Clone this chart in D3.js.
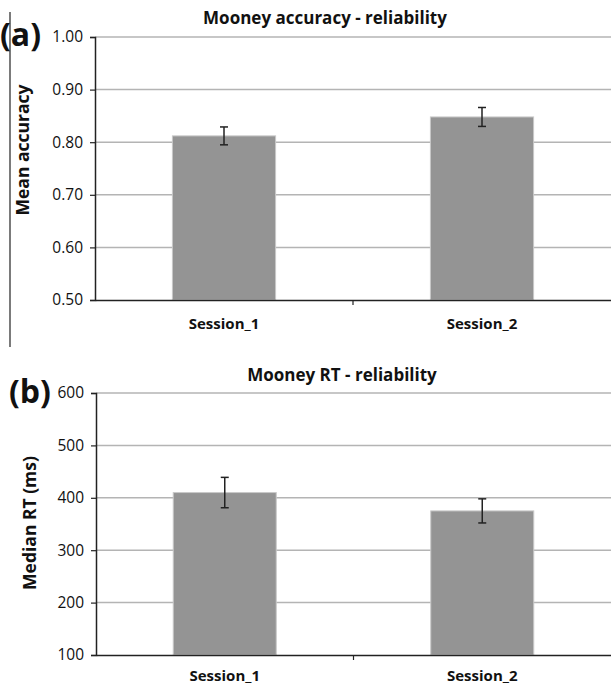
<!DOCTYPE html>
<html lang="en">
<head>
	<meta charset="UTF-8">
	<title>Mooney reliability</title>
	<style>
		body { margin: 0; background: #fff; }
		text { font-family: "Open Sans", "Noto Sans", sans-serif; }
	</style>
	<script src="https://d3js.org/d3.v7.min.js"></script>
</head>
<body>
	<script type="text/javascript">
		const width = 611;
		const height = 686;

		// data
		const sessions = ["Session_1", "Session_2"];
		const accMean = [0.812, 0.848];
		const accErr = [0.017, 0.018];
		const rtMean = [410, 375];
		const rtErr = [29, 23];
		const accTicks = [0.5, 0.6, 0.7, 0.8, 0.9, 1.0];
		const rtTicks = [100, 200, 300, 400, 500, 600];

		const svg = d3.select("body").append("svg")
			.attr("width", width)
			.attr("height", height);

		// frame line at the left of panel (a)
		svg.append("line")
			.attr("x1", 10).attr("x2", 10)
			.attr("y1", 12).attr("y2", 347)
			.style("stroke", "#222")
			.style("stroke-width", 1.2);

		function panel(opts) {
			const x = d3.scaleBand()
				.domain(sessions)
				.range([opts.left, width])
				.paddingInner(0.6)
				.paddingOuter(0.3);
			const y = d3.scaleLinear()
				.domain(opts.domain)
				.range([opts.bottom, opts.top]);

			const g = svg.append("g");

			// gridlines
			g.selectAll(".grid")
				.data(opts.ticks.slice(1))
				.join("line")
				.attr("x1", opts.left).attr("x2", width)
				.attr("y1", d => y(d)).attr("y2", d => y(d))
				.style("stroke", "#b4b4b4")
				.style("stroke-width", 1.5);

			// bars
			g.selectAll(".bar")
				.data(opts.mean)
				.join("rect")
				.attr("x", (d, i) => x(sessions[i]))
				.attr("width", x.bandwidth())
				.attr("y", d => y(d))
				.attr("height", d => y(opts.domain[0]) - y(d))
				.style("fill", "#949494")
				.style("stroke", "#c8c8c8")
				.style("stroke-width", 1);

			// error bars
			const eb = g.selectAll(".err")
				.data(opts.mean)
				.join("g")
				.attr("transform", (d, i) => `translate(${x(sessions[i]) + x.bandwidth() / 2},0)`);
			eb.append("line")
				.attr("y1", (d, i) => y(d + opts.err[i]))
				.attr("y2", (d, i) => y(d - opts.err[i]))
				.style("stroke", "#222").style("stroke-width", 1.5);
			eb.append("line")
				.attr("x1", -4).attr("x2", 4)
				.attr("y1", (d, i) => y(d + opts.err[i]))
				.attr("y2", (d, i) => y(d + opts.err[i]))
				.style("stroke", "#222").style("stroke-width", 1.5);
			eb.append("line")
				.attr("x1", -4).attr("x2", 4)
				.attr("y1", (d, i) => y(d - opts.err[i]))
				.attr("y2", (d, i) => y(d - opts.err[i]))
				.style("stroke", "#222").style("stroke-width", 1.5);

			// y axis
			const yAxis = g.append("g")
				.attr("transform", `translate(${opts.left},0)`)
				.call(d3.axisLeft(y).tickValues(opts.ticks).tickFormat(opts.fmt).tickSize(5).tickPadding(7));
			yAxis.select(".domain").style("stroke", "#222").style("stroke-width", 1.5);
			yAxis.selectAll(".tick line").style("stroke", "#222").style("stroke-width", 1.2);
			yAxis.selectAll("text")
				.style("font-size", "15.5px")
				.style("fill", "#111");

			// x axis
			const xAxis = g.append("g")
				.attr("transform", `translate(0,${opts.bottom})`)
				.call(d3.axisBottom(x).tickSize(0).tickPadding(opts.xPad));
			xAxis.select(".domain").style("stroke", "#222").style("stroke-width", 1.5);
			xAxis.selectAll("text")
				.style("font-size", "15px")
				.style("font-weight", "bold")
				.style("fill", "#111");
			// tick between the categories
			g.append("line")
				.attr("x1", (x(sessions[0]) + x.bandwidth() + x(sessions[1])) / 2)
				.attr("x2", (x(sessions[0]) + x.bandwidth() + x(sessions[1])) / 2)
				.attr("y1", opts.bottom).attr("y2", opts.bottom + 5)
				.style("stroke", "#222").style("stroke-width", 1.2);

			// title
			g.append("text")
				.attr("x", opts.titleX)
				.attr("y", opts.titleY)
				.attr("text-anchor", "middle")
				.style("font-size", "17px")
				.style("font-weight", "bold")
				.style("fill", "#111")
				.text(opts.title);

			// y label
			g.append("text")
				.attr("transform", `translate(${opts.labelX},${opts.labelY}) rotate(-90)`)
				.attr("text-anchor", "middle")
				.style("font-size", "17.5px")
				.style("font-weight", "bold")
				.style("fill", "#111")
				.text(opts.ylabel);

			// panel letter
			g.append("text")
				.attr("x", opts.letterX)
				.attr("y", opts.letterY)
				.style("font-size", "32px")
				.style("font-weight", "bold")
				.style("fill", "#111")
				.text(opts.letter);
		}

		panel({
			left: 95, top: 37, bottom: 300, xPad: 18,
			domain: [0.5, 1.0], ticks: accTicks, fmt: d3.format(".2f"),
			mean: accMean, err: accErr,
			title: "Mooney accuracy - reliability", titleX: 325, titleY: 24,
			ylabel: "Mean accuracy", labelX: 29, labelY: 150,
			letter: "(a)", letterX: 0, letterY: 46
		});

		panel({
			left: 96, top: 393, bottom: 655, xPad: 15,
			domain: [100, 600], ticks: rtTicks, fmt: d3.format("d"),
			mean: rtMean, err: rtErr,
			title: "Mooney RT - reliability", titleX: 342, titleY: 381,
			ylabel: "Median RT (ms)", labelX: 36, labelY: 523,
			letter: "(b)", letterX: 9, letterY: 403
		});
	</script>
</body>
</html>
